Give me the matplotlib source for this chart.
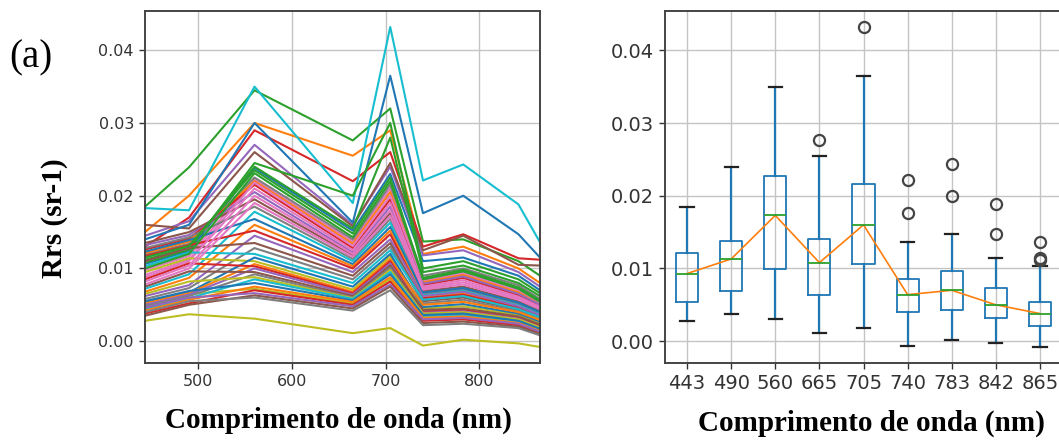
import numpy as np
import matplotlib
matplotlib.use("Agg")
import matplotlib.pyplot as plt
from matplotlib.ticker import FormatStrFormatter

# Sentinel-2 MSI band centres (nm)
bands = [443, 490, 560, 665, 705, 740, 783, 842, 865]
band_labels = ["443", "490", "560", "665", "705", "740", "783", "842", "865"]

# Remote-sensing reflectance per band, one value per sampling station (sr-1)
rrs_443 = [0.0106, 0.0150, 0.0185, 0.0130, 0.0145, 0.0160, 0.0098, 0.0119, 0.0028, 0.0183,
           0.0140, 0.0121, 0.0108, 0.0126, 0.0132, 0.0135, 0.0091, 0.0128, 0.0051, 0.0072,
           0.0123, 0.0068, 0.0112, 0.0117, 0.0062, 0.0110, 0.0088, 0.0058, 0.0095, 0.0103,
           0.0053, 0.0052, 0.0115, 0.0085, 0.0050, 0.0075, 0.0082, 0.0048, 0.0065, 0.0044,
           0.0055, 0.0042, 0.0100, 0.0038, 0.0046, 0.0035, 0.0078, 0.0040]
rrs_490 = [0.0124, 0.0200, 0.0239, 0.0170, 0.0165, 0.0155, 0.0117, 0.0134, 0.0037, 0.0180,
           0.0160, 0.0137, 0.0126, 0.0141, 0.0146, 0.0150, 0.0112, 0.0143, 0.0065, 0.0092,
           0.0139, 0.0087, 0.0129, 0.0132, 0.0077, 0.0128, 0.0110, 0.0073, 0.0114, 0.0122,
           0.0067, 0.0066, 0.0131, 0.0107, 0.0064, 0.0096, 0.0104, 0.0062, 0.0082, 0.0059,
           0.0069, 0.0057, 0.0120, 0.0052, 0.0060, 0.0050, 0.0100, 0.0055]
rrs_560 = [0.0238, 0.0300, 0.0345, 0.0290, 0.0270, 0.0260, 0.0222, 0.0225, 0.0031, 0.0350,
           0.0300, 0.0220, 0.0245, 0.0215, 0.0205, 0.0195, 0.0218, 0.0185, 0.0072, 0.0178,
           0.0168, 0.0160, 0.0240, 0.0152, 0.0145, 0.0135, 0.0210, 0.0128, 0.0110, 0.0120,
           0.0115, 0.0106, 0.0235, 0.0103, 0.0100, 0.0095, 0.0200, 0.0092, 0.0088, 0.0085,
           0.0080, 0.0075, 0.0231, 0.0070, 0.0066, 0.0063, 0.0190, 0.0060]
rrs_665 = [0.0152, 0.0255, 0.0276, 0.0220, 0.0160, 0.0158, 0.0137, 0.0140, 0.0011, 0.0190,
           0.0163, 0.0134, 0.0200, 0.0128, 0.0122, 0.0118, 0.0131, 0.0113, 0.0052, 0.0110,
           0.0106, 0.0103, 0.0155, 0.0100, 0.0095, 0.0090, 0.0125, 0.0085, 0.0071, 0.0080,
           0.0075, 0.0068, 0.0148, 0.0066, 0.0064, 0.0062, 0.0120, 0.0060, 0.0059, 0.0058,
           0.0056, 0.0054, 0.0143, 0.0050, 0.0048, 0.0045, 0.0116, 0.0042]
rrs_705 = [0.0230, 0.0290, 0.0320, 0.0260, 0.0240, 0.0245, 0.0210, 0.0215, 0.0018, 0.0432,
           0.0365, 0.0205, 0.0300, 0.0195, 0.0185, 0.0176, 0.0200, 0.0168, 0.0085, 0.0163,
           0.0157, 0.0152, 0.0280, 0.0147, 0.0140, 0.0135, 0.0190, 0.0130, 0.0117, 0.0125,
           0.0120, 0.0113, 0.0225, 0.0110, 0.0107, 0.0104, 0.0180, 0.0101, 0.0098, 0.0095,
           0.0092, 0.0088, 0.0220, 0.0082, 0.0078, 0.0075, 0.0172, 0.0070]
rrs_740 = [0.0110, 0.0120, 0.0137, 0.0130, 0.0118, 0.0125, 0.0082, 0.0090, -0.0006, 0.0221,
           0.0176, 0.0081, 0.0100, 0.0077, 0.0079, 0.0069, 0.0084, 0.0065, 0.0033, 0.0063,
           0.0067, 0.0060, 0.0095, 0.0059, 0.0062, 0.0055, 0.0075, 0.0052, 0.0045, 0.0057,
           0.0047, 0.0050, 0.0087, 0.0041, 0.0039, 0.0043, 0.0071, 0.0037, 0.0038, 0.0035,
           0.0036, 0.0032, 0.0085, 0.0028, 0.0030, 0.0025, 0.0073, 0.0022]
rrs_783 = [0.0115, 0.0130, 0.0140, 0.0147, 0.0125, 0.0145, 0.0093, 0.0100, 0.0002, 0.0243,
           0.0200, 0.0091, 0.0110, 0.0087, 0.0089, 0.0075, 0.0095, 0.0071, 0.0035, 0.0069,
           0.0073, 0.0066, 0.0104, 0.0064, 0.0068, 0.0060, 0.0084, 0.0057, 0.0048, 0.0062,
           0.0051, 0.0054, 0.0098, 0.0043, 0.0041, 0.0045, 0.0078, 0.0039, 0.0040, 0.0036,
           0.0038, 0.0034, 0.0096, 0.0030, 0.0032, 0.0027, 0.0081, 0.0024]
rrs_842 = [0.0090, 0.0100, 0.0110, 0.0114, 0.0095, 0.0105, 0.0069, 0.0077, -0.0003, 0.0188,
           0.0147, 0.0067, 0.0085, 0.0063, 0.0065, 0.0055, 0.0071, 0.0051, 0.0026, 0.0049,
           0.0053, 0.0047, 0.0080, 0.0046, 0.0048, 0.0043, 0.0061, 0.0041, 0.0036, 0.0044,
           0.0038, 0.0040, 0.0074, 0.0033, 0.0031, 0.0034, 0.0057, 0.0029, 0.0030, 0.0027,
           0.0028, 0.0025, 0.0072, 0.0022, 0.0024, 0.0020, 0.0059, 0.0018]
rrs_865 = [0.0070, 0.0080, 0.0090, 0.0112, 0.0075, 0.0104, 0.0052, 0.0058, -0.0008, 0.0136,
           0.0115, 0.0051, 0.0066, 0.0048, 0.0050, 0.0042, 0.0053, 0.0039, 0.0015, 0.0037,
           0.0040, 0.0035, 0.0062, 0.0034, 0.0036, 0.0032, 0.0047, 0.0031, 0.0025, 0.0033,
           0.0027, 0.0029, 0.0056, 0.0021, 0.0019, 0.0023, 0.0044, 0.0018, 0.0019, 0.0016,
           0.0017, 0.0014, 0.0054, 0.0012, 0.0013, 0.0010, 0.0045, 0.0008]

rrs = np.array([rrs_443, rrs_490, rrs_560, rrs_665, rrs_705,
                rrs_740, rrs_783, rrs_842, rrs_865])  # (band, station)

W, H = 1059, 441
fig = plt.figure(figsize=(W / 100, H / 100), dpi=100)

serif = "Liberation Serif"
tick_col = "#333333"
spine_col = "#444444"
grid_col = "#c4c4c4"


def style_axes(ax, fs):
    for s in ax.spines.values():
        s.set_color(spine_col)
        s.set_linewidth(1.4)
    ax.grid(True, color=grid_col, lw=1.0)
    ax.set_axisbelow(True)
    ax.tick_params(labelsize=fs, colors=tick_col, length=4, width=1.0, pad=4)
    ax.yaxis.set_major_formatter(FormatStrFormatter("%.2f"))
    ax.set_yticks([0.0, 0.01, 0.02, 0.03, 0.04])


# (a) left: individual spectra
ax1 = fig.add_axes([145 / W, 1 - 363 / H, 395 / W, 352 / H])
colors = plt.rcParams["axes.prop_cycle"].by_key()["color"]
for i in range(rrs.shape[1]):
    ax1.plot(bands, rrs[:, i], color=colors[i % len(colors)], lw=1.5)
ax1.set_xlim(bands[0], bands[-1])
ax1.set_xticks([500, 600, 700, 800])
style_axes(ax1, 11.5)

# right: per-band distribution with the central spectral profile
ax2 = fig.add_axes([665 / W, 1 - 363 / H, 397 / W, 352 / H])
pos = np.arange(1, len(bands) + 1)
ax2.boxplot([rrs[j] for j in range(len(bands))], positions=pos, widths=0.5,
            capwidths=0.3,
            boxprops=dict(color="#1f77b4", lw=1.3),
            whiskerprops=dict(color="#1f77b4", lw=1.6),
            capprops=dict(color="#222222", lw=1.6),
            medianprops=dict(color="#2ca02c", lw=1.3),
            flierprops=dict(marker="o", markerfacecolor="none",
                            markeredgecolor="#444444", markersize=8, mew=1.6))
ax2.plot(pos, np.median(rrs, axis=1), color="#ff7f0e", lw=1.2)
ax2.set_xticks(pos, band_labels)
ax2.set_xlim(0.5, len(bands) + 0.5)
ax2.set_ylim(ax1.get_ylim())
style_axes(ax2, 14)

fig.text(31 / W, 1 - 58 / H, "(a)", family=serif, fontsize=28,
         ha="center", va="center")
fig.text(54 / W, 1 - 218 / H, "Rrs (sr-1)", family=serif, fontsize=21,
         fontweight="bold", rotation=90, ha="center", va="center")
fig.text(338 / W, 1 - 428 / H, "Comprimento de onda (nm)", family=serif,
         fontsize=21, fontweight="bold", ha="center", va="baseline")
fig.text(871 / W, 1 - 431 / H, "Comprimento de onda (nm)", family=serif,
         fontsize=21, fontweight="bold", ha="center", va="baseline")

fig.savefig("out.png", dpi=100)
